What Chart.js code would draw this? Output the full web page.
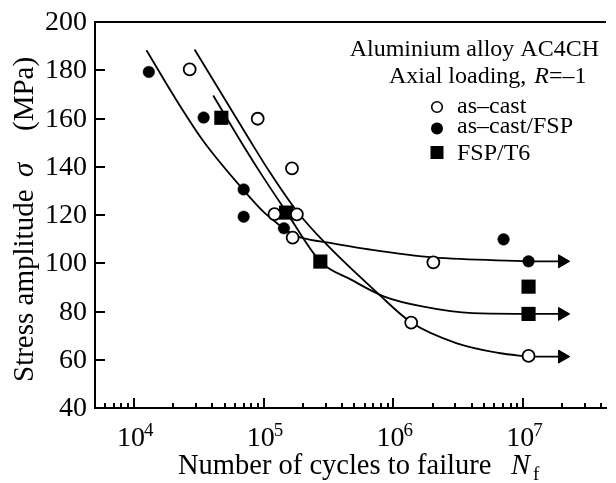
<!DOCTYPE html>
<html>
<head>
<meta charset="utf-8">
<script src="https://cdn.jsdelivr.net/npm/chart.js@4.4.1/dist/chart.umd.min.js"></script>
<style>
  html, body { margin: 0; padding: 0; background: #fff; }
  #wrap { width: 616px; height: 483px; position: relative; }
</style>
</head>
<body>
<div id="wrap"><canvas id="snChart"></canvas></div>
<script>
// measured specimens: cycles to failure / stress amplitude (MPa)
const asCastN = [26850, 89800, 165000, 121000, 180000, 167000, 2030000, 1370000, 11000000];
const asCastS = [180.4, 159.9, 139.3, 120.4, 120.3, 110.6, 100.4, 75.4, 61.6];
const fspN = [13000, 34400, 70000, 70000, 143000, 7060000, 11000000];
const fspS = [179.3, 160.4, 130.6, 119.3, 114.5, 109.9, 100.8];
const t6N = [47100, 148600, 273000, 11000000, 11000000];
const t6S = [160.3, 121.0, 100.7, 90.3, 79.0];

// fitted S-N curves
const fitFspN = [12470, 20070, 33850, 69980, 99130, 131700, 151400, 174000, 200000, 325800, 653800, 2028000, 11000000];
const fitFspS = [188.3, 169.7, 151.0, 130.3, 121.4, 115.9, 113.5, 111.6, 110.4, 108.4, 105.7, 102.4, 100.8];
const fitCastN = [29290, 78100, 108700, 177000, 298500, 751000, 1375000, 3044000, 6482000, 11000000];
const fitCastS = [188.6, 151.0, 138.6, 122.1, 108.3, 87.7, 75.4, 66.9, 62.8, 61.3];
const fitT6N = [40770, 65620, 91350, 148800, 273600, 475300, 849000, 1704000, 4071000, 11000000];
const fitT6S = [169.5, 151.0, 138.6, 121.4, 100.7, 93.1, 86.2, 82.0, 79.3, 79.0];

// run-outs (arrows)
const runoutFromN = 11000000;
const runoutToN = 20000000;
const runoutS = [100.8, 79.0, 61.3];

// axes
const yTicks = [40, 60, 80, 100, 120, 140, 160, 180, 200];
const xTickExponents = [4, 5, 6, 7];
const xMin = 5000, xMax = 43500000;

const FONT = '"Liberation Serif", "Times New Roman", serif';

function pts(xs, ys) {
  return xs.map((x, i) => ({x: x, y: ys[i]}));
}

function curve(xs, ys) {
  return {
    data: pts(xs, ys),
    showLine: true,
    borderColor: '#000',
    borderWidth: 1.8,
    pointRadius: 0,
    cubicInterpolationMode: 'monotone',
    order: 2
  };
}

function arrow(s) {
  return {
    data: [{x: runoutFromN, y: s}, {x: runoutToN, y: s}],
    showLine: true,
    borderColor: '#000',
    borderWidth: 1.8,
    backgroundColor: '#000',
    pointStyle: 'triangle',
    rotation: 90,
    pointBorderWidth: 1,
    pointRadius: (c) => c.dataIndex === 1 ? 7.5 : 0,
    order: 2
  };
}

// axis ticks, labels, titles and the key are drawn here
const decor = {
  id: 'decor',
  afterDraw(chart) {
    const ctx = chart.ctx, a = chart.chartArea;
    const xs = chart.scales.x, ys = chart.scales.y;
    ctx.save();
    ctx.strokeStyle = '#000';
    ctx.fillStyle = '#000';
    ctx.lineWidth = 2;

    // top frame line
    ctx.beginPath();
    ctx.moveTo(a.left, a.top);
    ctx.lineTo(a.right, a.top);
    ctx.stroke();

    // y ticks (inward) and labels
    ctx.font = '28px ' + FONT;
    ctx.textAlign = 'right';
    ctx.textBaseline = 'middle';
    yTicks.forEach(v => {
      const py = Math.round(ys.getPixelForValue(v));
      ctx.beginPath();
      ctx.moveTo(a.left, py);
      ctx.lineTo(a.left + 10, py);
      ctx.stroke();
      ctx.fillText(String(v), a.left - 8, py + 1);
    });

    // x ticks, major + minor
    for (let e = 3; e <= 7; e++) {
      for (let s = 1; s <= 9; s++) {
        const v = s * Math.pow(10, e);
        if (v < xMin || v > xMax) continue;
        const px = Math.round(xs.getPixelForValue(v));
        const len = s === 1 ? 10 : 5;
        ctx.beginPath();
        ctx.moveTo(px, a.bottom);
        ctx.lineTo(px, a.bottom - len);
        ctx.stroke();
      }
    }

    ctx.textBaseline = 'alphabetic';
    xTickExponents.forEach(e => {
      const px = xs.getPixelForValue(Math.pow(10, e));
      ctx.font = '28px ' + FONT;
      ctx.textAlign = 'right';
      ctx.fillText('10', px + 11, 446);
      ctx.font = '19px ' + FONT;
      ctx.textAlign = 'left';
      ctx.fillText(String(e), px + 10, 436);
    });

    // x title
    ctx.textAlign = 'left';
    ctx.font = '28.5px ' + FONT;
    ctx.fillText('Number of cycles to failure', 178, 474);
    ctx.font = 'italic 28.5px ' + FONT;
    ctx.fillText('N', 511, 474);
    ctx.font = '19px ' + FONT;
    ctx.fillText('f', 533, 480);

    // y title, rotated
    ctx.save();
    ctx.translate(33, 0);
    ctx.rotate(-Math.PI / 2);
    ctx.font = '29px ' + FONT;
    ctx.fillText('Stress amplitude', -382, 0);
    ctx.font = 'italic 29px ' + FONT;
    ctx.fillText('\u03c3', -177, 0);
    ctx.font = '29px ' + FONT;
    ctx.fillText('(MPa)', -131, 0);
    ctx.restore();

    // key
    ctx.font = '24px ' + FONT;
    ctx.textAlign = 'right';
    ctx.fillText('Aluminium alloy AC4CH', 599, 56);
    ctx.textAlign = 'left';
    let tx = 389;
    ctx.fillText('Axial loading, ', tx, 83);
    tx += ctx.measureText('Axial loading, ').width + 2;
    ctx.font = 'italic 24px ' + FONT;
    ctx.fillText('R', tx, 83);
    tx += ctx.measureText('R').width;
    ctx.font = '24px ' + FONT;
    ctx.fillText('=\u20131', tx, 83);

    ctx.fillText('as\u2013cast', 457, 113);
    ctx.fillText('as\u2013cast/FSP', 457, 133);
    ctx.fillText('FSP/T6', 457, 160);

    ctx.lineWidth = 1.6;
    ctx.beginPath();
    ctx.arc(437, 107, 5.3, 0, Math.PI * 2);
    ctx.fillStyle = '#fff';
    ctx.fill();
    ctx.stroke();
    ctx.fillStyle = '#000';
    ctx.beginPath();
    ctx.arc(437, 128.5, 6, 0, Math.PI * 2);
    ctx.fill();
    ctx.fillRect(430.5, 146, 13, 13);

    ctx.restore();
  }
};

new Chart(document.getElementById('snChart'), {
  type: 'scatter',
  data: {
    datasets: [
      {
        label: 'as\u2013cast',
        data: pts(asCastN, asCastS),
        pointStyle: 'circle',
        pointRadius: 6,
        pointBorderWidth: 1.8,
        pointBackgroundColor: '#fff',
        pointBorderColor: '#000',
        order: 0
      },
      {
        label: 'as\u2013cast/FSP',
        data: pts(fspN, fspS),
        pointStyle: 'circle',
        pointRadius: 5.8,
        pointBorderWidth: 0.5,
        pointBackgroundColor: '#000',
        pointBorderColor: '#000',
        order: 0
      },
      {
        label: 'FSP/T6',
        data: pts(t6N, t6S),
        pointStyle: 'rect',
        pointRadius: 10,
        pointBorderWidth: 0,
        pointBackgroundColor: '#000',
        pointBorderColor: '#000',
        order: 0
      },
      curve(fitFspN, fitFspS),
      curve(fitCastN, fitCastS),
      curve(fitT6N, fitT6S),
      arrow(runoutS[0]),
      arrow(runoutS[1]),
      arrow(runoutS[2])
    ]
  },
  options: {
    responsive: true,
    maintainAspectRatio: false,
    animation: false,
    layout: {padding: {top: 22, right: 0, left: 0, bottom: 0}},
    plugins: {
      legend: {display: false},
      tooltip: {enabled: false}
    },
    scales: {
      x: {
        type: 'logarithmic',
        min: xMin,
        max: xMax,
        ticks: {display: false},
        grid: {display: false, drawTicks: false},
        border: {display: true, color: '#000', width: 2},
        afterFit: (s) => { s.height = 75; }
      },
      y: {
        type: 'linear',
        min: 40,
        max: 200,
        ticks: {display: false},
        grid: {display: false, drawTicks: false},
        border: {display: true, color: '#000', width: 2},
        afterFit: (s) => { s.width = 95; }
      }
    }
  },
  plugins: [decor]
});
</script>
</body>
</html>
